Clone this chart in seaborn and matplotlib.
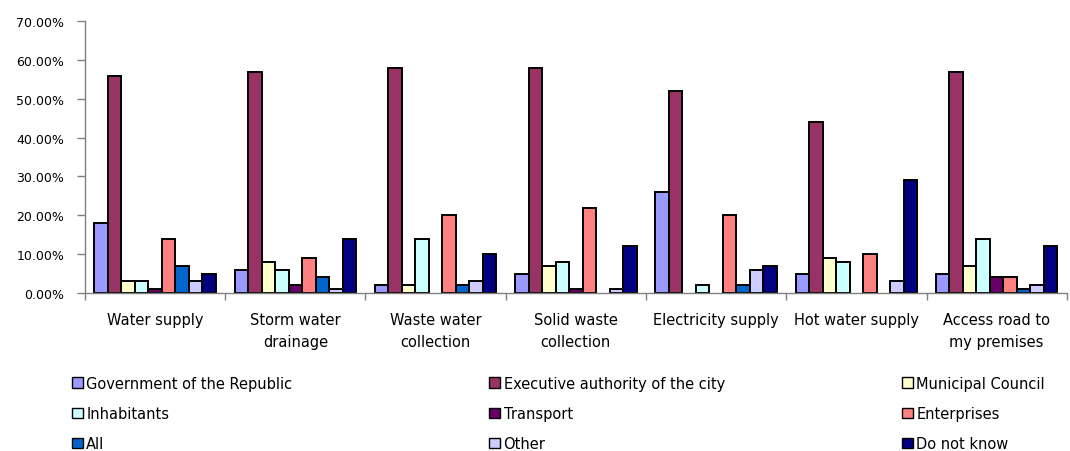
import numpy as np
import pandas as pd
import matplotlib
matplotlib.use("Agg")
import matplotlib.pyplot as plt
from matplotlib.ticker import FuncFormatter, MultipleLocator, FixedLocator
import seaborn as sns

services = ["Water supply", "Storm water\ndrainage", "Waste water\ncollection",
            "Solid waste\ncollection", "Electricity supply", "Hot water supply",
            "Access road to\nmy premises"]
responsible = ["Government of the Republic", "Executive authority of the city",
               "Municipal Council", "Inhabitants", "Transport", "Enterprises",
               "All", "Other", "Do not know"]

# share of answers per service, percent (None = no answers)
government = [18, 6, 2, 5, 26, 5, 5]
executive = [56, 57, 58, 58, 52, 44, 57]
municipal = [3, 8, 2, 7, None, 9, 7]
inhabitants = [3, 6, 14, 8, 2, 8, 14]
transport = [1, 2, None, 1, None, None, 4]
enterprises = [14, 9, 20, 22, 20, 10, 4]
all_ = [7, 4, 2, None, 2, None, 1]
other = [3, 1, 3, 1, 6, 3, 2]
dont_know = [5, 14, 10, 12, 7, 29, 12]

series = [government, executive, municipal, inhabitants, transport,
          enterprises, all_, other, dont_know]
colors = ["#9999FF", "#993366", "#FFFFCC", "#CCFFFF", "#660066",
          "#FF8080", "#0066CC", "#CCCCFF", "#000080"]

rows = []
for name, vals in zip(responsible, series):
    for svc, v in zip(services, vals):
        if v is not None:
            rows.append({"service": svc, "who": name, "share": v})
df = pd.DataFrame(rows)

sns.set_style("white")
plt.rcParams["font.family"] = ["DejaVu Sans"]
plt.rcParams["text.color"] = "black"

fig = plt.figure(figsize=(10.7, 4.52), dpi=100)
ax = fig.add_axes([0.0794, 0.3496, 0.9176, 0.6014])

sns.barplot(data=df, x="service", y="share", hue="who", order=services,
            hue_order=responsible, palette=colors, width=0.865,
            edgecolor="black", linewidth=1.4, saturation=1, ax=ax, legend=True)

ax.set_ylim(0, 70)
ax.set_xlim(-0.5, len(services) - 0.5)
ax.yaxis.set_major_locator(MultipleLocator(10))
ax.yaxis.set_major_formatter(FuncFormatter(lambda v, p: f"{v:.2f}%"))
ax.set_xlabel("")
ax.set_ylabel("")

for s in ["top", "right"]:
    ax.spines[s].set_visible(False)
ax.spines["left"].set_color("#808080")
ax.spines["bottom"].set_color("#808080")
ax.spines["left"].set_linewidth(1)
ax.spines["bottom"].set_linewidth(1)

ax.tick_params(axis="y", which="major", direction="out", length=6, width=1,
               color="#808080", labelsize=9, labelcolor="black", left=True,
               pad=9)
ax.xaxis.set_major_locator(FixedLocator(range(len(services))))
ax.set_xticklabels(services, fontsize=10.5, linespacing=1.55)
ax.tick_params(axis="x", which="major", length=0, pad=14, labelcolor="black")
ax.xaxis.set_minor_locator(FixedLocator(np.arange(-0.5, len(services), 1.0)))
ax.tick_params(axis="x", which="minor", direction="out", length=5, width=1,
               color="#808080", bottom=True)

handles, labels = ax.get_legend_handles_labels()
ax.get_legend().remove()

# three legend columns, laid out row by row
col_x = [0.0673, 0.4574, 0.843]
for c, x0 in enumerate(col_x):
    idx = [c, c + 3, c + 6]
    leg = fig.legend([handles[i] for i in idx], [labels[i] for i in idx],
                     ncol=1, loc="upper left", bbox_to_anchor=(x0, 0.167),
                     frameon=False, fontsize=10.5, handlelength=0.72,
                     handleheight=0.72, handletextpad=0.25, labelspacing=1.05,
                     borderaxespad=0, borderpad=0)
    for h in leg.legend_handles:
        h.set_linewidth(1)

fig.savefig("out.png", dpi=100)
